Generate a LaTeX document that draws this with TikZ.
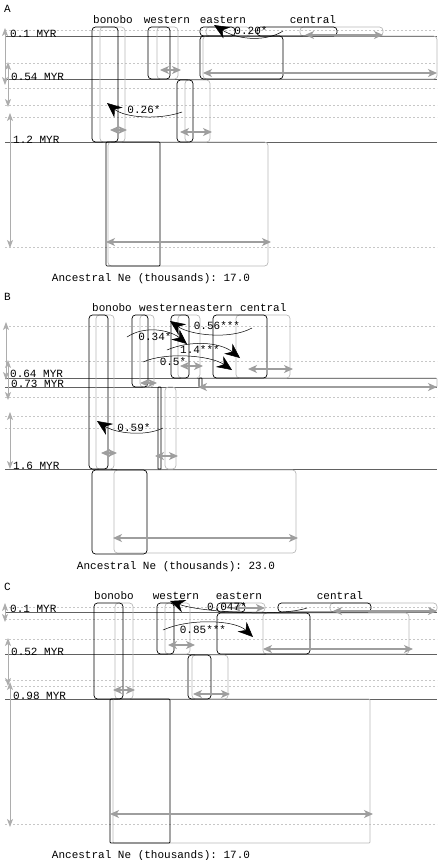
\documentclass[tikz,border=0pt]{standalone}
\usepackage{fontspec}
\setmonofont{Liberation Mono}
\usetikzlibrary{arrows.meta}
\tikzset{
  blackbox/.style={draw=black, line width=0.7pt, rounded corners=3.5pt},
  graybox/.style={draw=black!28, line width=0.7pt, rounded corners=3.5pt},
  timeline/.style={draw=black!62, line width=0.7pt},
  gridline/.style={draw=black!22, line width=0.5pt, dash pattern=on 2pt off 2pt},
  sizearrow/.style={draw=black!38, line width=1.1pt, {Stealth[length=9pt,width=8pt,inset=2.5pt]}-{Stealth[length=9pt,width=8pt,inset=2.5pt]}},
  timearrow/.style={draw=black!32, line width=0.8pt, {Stealth[length=8pt,width=6pt,inset=2pt]}-{Stealth[length=8pt,width=6pt,inset=2pt]}},
  migarrow/.style={draw=black, line width=0.5pt, -{Stealth[length=15pt,width=13pt,inset=5pt]}},
  txt/.style={font=\ttfamily\fontsize{11}{12}\selectfont, inner sep=0pt, anchor=base},
  txtw/.style={txt, anchor=base west},
}
\begin{document}
\begin{tikzpicture}[x=1pt,y=-1pt]
\useasboundingbox (0,0) rectangle (440,860);
% panel A
\node[txtw] (panA) at (4,12) {A};
\foreach \y in {30,63,88,105,117,247} \draw[gridline] (5,\y) -- (437,\y);
\foreach \y in {36,79,142} \draw[timeline] (5,\y) -- (437,\y);
\draw[timearrow] (5,28) -- (5,85);
\draw[timearrow] (8,62) -- (8,107);
\draw[timearrow] (10,113) -- (10,248);
\node[txtw] (tA1) at (10,37) {0.1 MYR};
\node[txtw] (tA2) at (11,80) {0.54 MYR};
\node[txtw] (tA3) at (13,143) {1.2 MYR};
\draw[graybox] (100,27) rectangle (125,142);
\draw[graybox] (157,27) rectangle (178,79);
\draw[graybox] (185,80) rectangle (210,142);
\draw[graybox] (206,27) rectangle (250,36);
\draw[graybox] (300,27) rectangle (383,36);
\draw[graybox] (203,36) rectangle (437,79);
\draw[graybox] (108,142) rectangle (268,266);
\draw[blackbox] (92,27) rectangle (118,142);
\draw[blackbox] (148,27) rectangle (170,79);
\draw[blackbox] (177,80) rectangle (193,142);
\draw[blackbox] (200,27) rectangle (235,36);
\draw[blackbox] (257,27) rectangle (337,36);
\draw[blackbox] (200,36) rectangle (283,79);
\draw[blackbox,rounded corners=1pt] (106,142) rectangle (160,266);
\draw[sizearrow] (110,130) -- (127,130);
\draw[sizearrow] (160,70) -- (181,70);
\draw[sizearrow] (180,132) -- (212,132);
\draw[sizearrow] (203,73) -- (437,73);
\draw[sizearrow] (305,35) -- (383,35);
\draw[sizearrow] (106,242) -- (271,242);
\draw[migarrow] (283,31) .. controls (268,41) and (240,41) .. (214,25);
\draw[migarrow] (182,112) .. controls (160,120) and (125,118) .. (107,103);
\node[txt] (mA1) at (251,34) {0.20*};
\node[txt] (mA2) at (144,113) {0.26*};
\node[txt] (pA1) at (113,23) {bonobo};
\node[txt] (pA2) at (167,23) {western};
\node[txt] (pA3) at (223,23) {eastern};
\node[txt] (pA4) at (313,23) {central};
\node[txt] (nA) at (151,281) {Ancestral Ne (thousands): 17.0};
% panel B
\node[txtw] (panB) at (4,300) {B};
\foreach \y in {326,361,397,416,428} \draw[gridline] (5,\y) -- (437,\y);
\foreach \y in {378,387,469} \draw[timeline] (5,\y) -- (437,\y);
\draw[timearrow] (6,322) -- (6,380);
\draw[timearrow] (8,360) -- (8,400);
\draw[timearrow] (10,412) -- (10,469);
\node[txtw] (tB1) at (10,377) {0.64 MYR};
\node[txtw] (tB2) at (11,387.5) {0.73 MYR};
\node[txtw] (tB3) at (13,469) {1.6 MYR};
\draw[graybox] (96,315) rectangle (114,469);
\draw[graybox] (140,315) rectangle (154,387);
\draw[graybox] (178,315) rectangle (200,378);
\draw[graybox] (236,315) rectangle (290,378);
\draw[graybox,rounded corners=1pt] (199,378) rectangle (437,387);
\draw[graybox] (165,387) rectangle (176,469);
\draw[graybox] (114,470) rectangle (296,553);
\draw[blackbox] (89,315) rectangle (108,469);
\draw[blackbox] (132,315) rectangle (148,387);
\draw[blackbox] (171,315) rectangle (189,378);
\draw[blackbox] (213,315) rectangle (267,378);
\draw[blackbox,rounded corners=0.5pt] (199,378) rectangle (202,387);
\draw[blackbox,rounded corners=0.5pt] (158,387) rectangle (161,469);
\draw[blackbox] (92,470) rectangle (147,554);
\draw[sizearrow] (101,453) -- (117,453);
\draw[sizearrow] (140,383) -- (157,383);
\draw[sizearrow] (180,366) -- (203,366);
\draw[sizearrow] (248,369) -- (293,369);
\draw[sizearrow] (198,387) -- (437,387);
\draw[sizearrow] (155,456) -- (178,456);
\draw[sizearrow] (113,538) -- (298,538);
\draw[migarrow] (127,337) .. controls (145,325) and (170,330) .. (187,344);
\draw[migarrow] (252,328) .. controls (230,340) and (190,335) .. (170,321);
\draw[migarrow] (167,350) .. controls (190,340) and (220,342) .. (240,358);
\draw[migarrow] (143,362) .. controls (165,352) and (210,355) .. (232,370);
\draw[migarrow] (163,428) .. controls (145,437) and (115,433) .. (97,421);
\node[txt] (mB1) at (217,329) {0.56***};
\node[txt] (mB2) at (155,340) {0.34*};
\node[txt] (mB3) at (200,353) {1.4***};
\node[txt] (mB4) at (173,365) {0.5*};
\node[txt] (mB5) at (134,431) {0.59*};
\node[txtw] (pB1) at (92,311) {bonobo};
\node[txtw] (pB2) at (139,311) {western};
\node[txtw] (pB3) at (186,311) {eastern};
\node[txtw] (pB4) at (240,311) {central};
\node[txt] (nB) at (176,569) {Ancestral Ne (thousands): 23.0};
% panel C
\node[txtw] (panC) at (4,590) {C};
\foreach \y in {607,619,639,680,686,824} \draw[gridline] (5,\y) -- (437,\y);
\foreach \y in {612,654,699} \draw[timeline] (5,\y) -- (437,\y);
\draw[timearrow] (5,603) -- (5,622);
\draw[timearrow] (8,638) -- (8,686);
\draw[timearrow] (10,682) -- (10,827);
\node[txtw] (tC1) at (10,612) {0.1 MYR};
\node[txtw] (tC2) at (11,655) {0.52 MYR};
\node[txtw] (tC3) at (13,699) {0.98 MYR};
\draw[graybox] (115,603) rectangle (133,699);
\draw[graybox] (165,603) rectangle (190,654);
\draw[graybox] (222,603) rectangle (265,612);
\draw[graybox] (330,603) rectangle (437,612);
\draw[graybox] (263,613) rectangle (409,654);
\draw[graybox] (192,655) rectangle (228,699);
\draw[graybox,rounded corners=1pt] (113,699) rectangle (370,843);
\draw[blackbox] (94,603) rectangle (123,699);
\draw[blackbox] (157,603) rectangle (174,654);
\draw[blackbox] (217,603) rectangle (245,612);
\draw[blackbox] (278,603) rectangle (371,612);
\draw[blackbox] (217,613) rectangle (310,654);
\draw[blackbox] (188,655) rectangle (211,699);
\draw[blackbox,rounded corners=1pt] (110,699) rectangle (170,843);
\draw[sizearrow] (113,690) -- (135,690);
\draw[sizearrow] (168,645) -- (195,645);
\draw[sizearrow] (232,608) -- (265,608);
\draw[sizearrow] (333,611) -- (437,611);
\draw[sizearrow] (263,649) -- (413,649);
\draw[sizearrow] (193,694) -- (230,694);
\draw[sizearrow] (110,814) -- (373,814);
\draw[migarrow] (307,608) .. controls (280,617) and (200,612) .. (170,601);
\draw[migarrow] (163,630) .. controls (190,618) and (235,620) .. (253,637);
\node[txt] (mC1) at (227,610) {0.047*};
\node[txt] (mC2) at (203,633) {0.85***};
\node[txt] (pC1) at (114,599) {bonobo};
\node[txt] (pC2) at (176,599) {western};
\node[txt] (pC3) at (239,599) {eastern};
\node[txt] (pC4) at (340,599) {central};
\node[txt] (nC) at (151,858) {Ancestral Ne (thousands): 17.0};
\end{tikzpicture}
\end{document}
